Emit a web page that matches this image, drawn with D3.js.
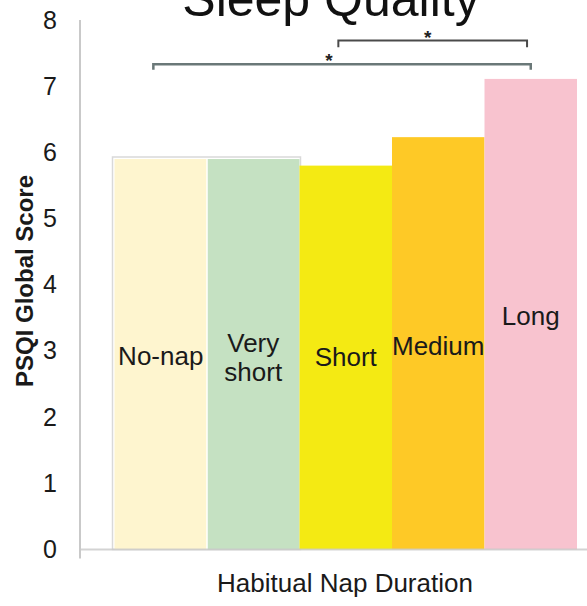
<!DOCTYPE html>
<html>
<head>
<meta charset="utf-8">
<script src="https://cdn.jsdelivr.net/npm/d3@7/dist/d3.min.js"></script>
<style>
  html, body { margin: 0; padding: 0; background: #fff; }
  svg { display: block; font-family: "Liberation Sans", Arial, sans-serif; }
</style>
</head>
<body>
<svg id="chart" width="587" height="606"></svg>
<script>
// Habitual nap duration groups and mean PSQI global scores
const categories = ["No-nap", "Very short", "Short", "Medium", "Long"];
const labelLines = [["No-nap"], ["Very", "short"], ["Short"], ["Medium"], ["Long"]];
const scores = [5.9, 5.9, 5.8, 6.23, 7.11];
const colors = ["#FEF5CF", "#C5E1C2", "#F4EA13", "#FEC926", "#F8C3CF"];
const yTicks = [0, 1, 2, 3, 4, 5, 6, 7, 8];
// label position inside each bar, in score units
const labelAt = [2.92, 2.9, 2.91, 3.07, 3.53];
// significance brackets: [from group, to group, level, text]
const brackets = [
  { from: "No-nap", to: "Long", fromFrac: 0.42, toFrac: 0.5, level: 7.33, drop: 0.08, text: "*" },
  { from: "Short", to: "Long", fromFrac: 0.42, toFrac: 0.46, level: 7.69, drop: 0.1, text: "*" }
];

const svg = d3.select("#chart");
const axisX = 80;
const y = d3.scaleLinear().domain([0, 8]).range([549.5, 20]);
const x = d3.scaleBand().domain(categories).range([114.5, 577]).padding(0);

// title, partly above the top edge
svg.append("text")
  .attr("x", 331).attr("y", 16)
  .attr("text-anchor", "middle")
  .attr("font-size", 50)
  .attr("fill", "#111")
  .text("Sleep Quality");

// frame behind the first two groups
svg.append("rect")
  .attr("x", x("No-nap") - 2)
  .attr("y", y(scores[0]) - 2)
  .attr("width", x("Very short") + x.bandwidth() - x("No-nap") + 3)
  .attr("height", y(0) - y(scores[0]) + 2)
  .attr("fill", "none")
  .attr("stroke", "#d9d9d9")
  .attr("stroke-width", 1.5);

// bars
svg.selectAll("rect.bar")
  .data(categories)
  .join("rect")
  .attr("class", "bar")
  .attr("x", d => x(d))
  .attr("y", (d, i) => y(scores[i]))
  .attr("width", x.bandwidth())
  .attr("height", (d, i) => y(0) - y(scores[i]))
  .attr("fill", (d, i) => colors[i]);

// thin separator between the two pale bars
svg.append("line")
  .attr("x1", x("Very short")).attr("x2", x("Very short"))
  .attr("y1", y(scores[1])).attr("y2", y(0))
  .attr("stroke", "#ffffff").attr("stroke-width", 1.5);

// baseline
svg.append("line")
  .attr("x1", axisX).attr("x2", 587)
  .attr("y1", y(0)).attr("y2", y(0))
  .attr("stroke", "#c9c9c9").attr("stroke-width", 2)
  .attr("opacity", 0.8);

// y axis
const yAxis = d3.axisLeft(y).tickValues(yTicks).tickSize(0).tickPadding(23).tickFormat(d3.format("d"));
const gy = svg.append("g").attr("transform", `translate(${axisX},0)`).call(yAxis);
gy.select(".domain").remove();
gy.selectAll("text")
  .attr("font-size", 25)
  .attr("font-family", "Liberation Sans, Arial, sans-serif")
  .attr("fill", "#1a1a1a");
svg.append("line")
  .attr("x1", axisX).attr("x2", axisX)
  .attr("y1", y(8)).attr("y2", y(0) + 9)
  .attr("stroke", "#c9c9c9").attr("stroke-width", 2);

// labels inside bars
categories.forEach((c, i) => {
  const lines = labelLines[i];
  const t = svg.append("text")
    .attr("text-anchor", "middle")
    .attr("font-size", 26)
    .attr("fill", "#1a1a1a")
    .attr("x", x(c) + x.bandwidth() / 2)
    .attr("y", y(labelAt[i]) - (lines.length - 1) * 14.5 + 9);
  lines.forEach((s, k) => {
    t.append("tspan")
      .attr("x", x(c) + x.bandwidth() / 2)
      .attr("dy", k === 0 ? 0 : 29)
      .text(s);
  });
});

// significance brackets
brackets.forEach((b, i) => {
  const x1 = x(b.from) + x.bandwidth() * b.fromFrac;
  const x2 = x(b.to) + x.bandwidth() * b.toFrac;
  const yl = y(b.level);
  const yd = y(b.level - b.drop);
  svg.append("path")
    .attr("d", `M${x1},${yd}V${yl}H${x2}V${yd}`)
    .attr("fill", "none")
    .attr("stroke", i === 0 ? "#6a7878" : "#4a4a4a")
    .attr("stroke-width", i === 0 ? 2.5 : 2);
  svg.append("text")
    .attr("x", (x1 + x2) / 2 + (i === 0 ? -13 : -5))
    .attr("y", yl + 3)
    .attr("text-anchor", "middle")
    .attr("font-size", 19)
    .attr("font-weight", "bold")
    .attr("fill", "#222")
    .text(b.text);
});

// axis titles
svg.append("text")
  .attr("x", 345).attr("y", 592)
  .attr("text-anchor", "middle")
  .attr("font-size", 26)
  .attr("fill", "#1a1a1a")
  .text("Habitual Nap Duration");

svg.append("text")
  .attr("transform", "translate(33,281) rotate(-90)")
  .attr("text-anchor", "middle")
  .attr("font-size", 24)
  .attr("font-weight", "bold")
  .attr("fill", "#1a1a1a")
  .text("PSQI Global Score");
</script>
</body>
</html>
